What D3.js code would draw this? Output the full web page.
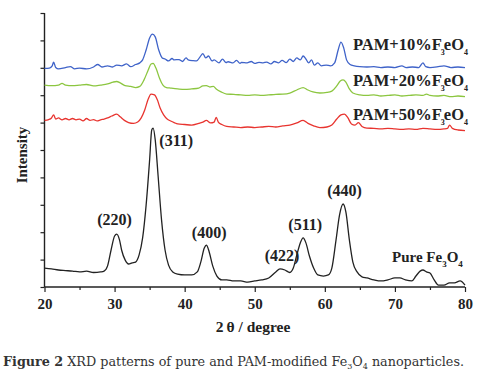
<!DOCTYPE html>
<html>
<head>
<meta charset="utf-8">
<script src="https://cdn.jsdelivr.net/npm/d3@7"></script>
<style>
  body { margin: 0; background: #fff; }
  svg { display: block; }
  text { font-family: "Liberation Serif", "Times New Roman", serif; }
</style>
</head>
<body>
<svg id="chart" width="484" height="377"></svg>
<script>
// 2θ (deg), intensity (a.u., traces offset vertically as in the figure)
const pure = [
  [20,69],[21,66],[22,62],[23,60],[24,58],[25,55],[26,58],[27,53],[28,55],[28.5,58],
  [29,77],[29.5,135],[30,186],[30.3,193],[30.7,172],[31,135],[31.5,99],[32,84],[32.5,88],[33,91],
  [33.5,117],[34,179],[34.5,299],[35,464],[35.3,573],[35.5,580],[35.8,537],[36.2,409],[36.7,245],[37.2,135],
  [37.7,80],[38.3,55],[39,47],[40,44],[41,44],[41.8,55],[42.3,91],[42.8,142],[43.1,153],[43.5,128],
  [44,77],[44.6,40],[45.3,26],[46,26],[47,22],[48,22],[49,18],[50,22],[51,26],[52,33],
  [53,55],[53.6,66],[54.3,62],[55,53],[55.5,69],[56,117],[56.5,161],[56.9,179],[57.3,161],[57.8,113],
  [58.4,69],[59,44],[59.8,40],[60.5,44],[61,69],[61.6,172],[62.1,263],[62.6,303],[63,274],[63.5,172],
  [64,91],[64.6,55],[65.3,37],[66,33],[67,26],[68,22],[69,26],[70,33],[70.7,33],[71.5,26],
  [72.4,22],[73,40],[73.6,58],[74,62],[74.5,55],[75,51],[75.6,26],[76.2,7],[77,7],[77.8,15],
  [78.5,15],[79.3,22],[80,7]
];
const pam10 = [
  [20,798],[20.7,799],[21.1,807],[21.3,821],[21.6,801],[22,796],[23,801],[23.7,804],[24.3,796],[25,799],
  [26,796],[27,803],[27.6,812],[28.2,803],[29,807],[29.7,803],[30.3,810],[31,807],[31.7,814],[32.3,804],
  [33,812],[33.6,818],[34,829],[34.5,865],[35,909],[35.4,923],[35.8,913],[36.3,865],[36.8,836],[37.2,832],
  [37.7,825],[38.2,834],[38.5,829],[39.2,830],[39.7,823],[40.2,836],[40.5,829],[41.2,826],[41.7,825],[42.2,840],
  [42.6,852],[43,836],[43.4,843],[43.9,825],[44.2,829],[44.9,818],[45.4,832],[45.9,819],[46.2,822],[46.9,818],
  [47.4,827],[47.9,816],[48.1,820],[48.9,818],[49.5,823],[50,816],[50.6,820],[51.2,818],[51.7,821],[52.3,814],
  [52.8,823],[53.4,818],[53.9,827],[54.5,819],[55,832],[55.5,823],[56,836],[56.5,829],[56.9,843],[57.3,832],
  [57.7,818],[58.1,829],[58.5,810],[59,818],[59.5,807],[60.2,810],[60.8,807],[61.4,818],[61.9,865],[62.3,894],
  [62.7,872],[63.1,829],[63.6,812],[64.2,807],[65,804],[66,803],[67,804],[68,801],[69,803],[70,801],
  [71,807],[71.6,801],[72.5,803],[73.4,801],[74,818],[74.4,804],[75,801],[76,803],[77,807],[78,801],
  [79,803],[80,801]
];
const pam20 = [
  [20,737],[21,735],[22,737],[22.5,743],[23,737],[24,735],[25,737],[26,739],[27,734],[28,737],
  [29,741],[29.8,748],[30.3,750],[30.8,745],[31.5,735],[32.3,732],[33,728],[33.6,732],[34.2,756],[34.8,792],
  [35.2,814],[35.5,816],[35.9,799],[36.4,763],[36.9,737],[37.4,728],[38,726],[39,723],[40,721],[41,723],
  [42,726],[42.6,734],[43.1,735],[43.6,730],[44.1,732],[44.5,723],[45.2,712],[46,704],[47,703],[48,701],
  [49,699],[50,701],[51,699],[52,701],[53,703],[54,704],[55,708],[56,719],[56.9,728],[57.6,719],
  [58.3,712],[59.3,708],[60.3,710],[61,715],[61.7,734],[62.2,752],[62.6,756],[63,748],[63.5,723],[64,708],
  [65,701],[66,699],[67,701],[68,697],[69,699],[70,701],[71,697],[72,699],[73,701],[74,699],
  [74.5,704],[75,699],[76,697],[77,699],[78,695],[79,697],[80,695]
];
const pam50 = [
  [20,608],[20.6,611],[21,617],[21.3,628],[21.6,613],[22,617],[22.5,610],[23,615],[23.5,610],[24,615],
  [24.5,610],[25,613],[25.5,606],[26,615],[26.5,608],[27,611],[27.5,606],[28,610],[28.5,613],[29,617],
  [29.6,624],[30.3,631],[30.8,621],[31.4,608],[32,600],[32.7,597],[33.3,602],[33.8,617],[34.3,646],[34.8,686],
  [35.2,704],[35.7,701],[36.1,683],[36.5,653],[37,628],[37.5,613],[38,606],[38.5,600],[39,595],[40,593],
  [41,591],[42,597],[42.6,602],[43.1,608],[43.7,599],[44.2,602],[44.5,619],[44.8,602],[45.3,593],[46,586],
  [47,584],[48,582],[49,584],[50,582],[51,584],[52,586],[53,584],[54,588],[55,591],[56,599],
  [56.9,608],[57.6,597],[58.4,588],[59.3,582],[60.3,584],[61,591],[61.7,613],[62.3,628],[62.8,631],[63.3,617],
  [63.8,595],[64.3,591],[64.8,600],[65.3,586],[66,580],[67,579],[68,577],[69,579],[70,577],[71,575],
  [72,577],[73,575],[74,579],[75,577],[76,575],[77,577],[77.5,579],[77.8,591],[78.2,579],[79,573],
  [80,571]
];

const xTicks = [20, 30, 40, 50, 60, 70, 80];
const xMinorTicks = [25, 35, 45, 55, 65, 75];
const peakLabels = [
  { hkl: "(220)", x: 30.0, v: 225 },
  { hkl: "(311)", x: 38.8, v: 515 },
  { hkl: "(400)", x: 43.5, v: 180 },
  { hkl: "(422)", x: 53.9, v: 95 },
  { hkl: "(511)", x: 57.2, v: 208 },
  { hkl: "(440)", x: 62.8, v: 332 }
];
const seriesLabels = [
  { pct: "10", v: 865 },
  { pct: "20", v: 735 },
  { pct: "50", v: 610 }
];

const svg = d3.select("#chart");
const margin = { top: 13, right: 19, bottom: 90, left: 44.5 };
const width = 484, height = 377;

const x = d3.scaleLinear().domain([20, 80]).range([margin.left, width - margin.right]);
const y = d3.scaleLinear().domain([0, 1000]).range([height - margin.bottom, margin.top]);

svg.append("rect").attr("width", width).attr("height", height).attr("fill", "#fff");

// axes
const xAxis = svg.append("g")
  .attr("transform", `translate(0,${y(0)})`)
  .call(d3.axisBottom(x).tickValues(xTicks).tickSize(5).tickFormat(d3.format("d")));
svg.append("g")
  .attr("transform", `translate(0,${y(0)})`)
  .call(d3.axisBottom(x).tickValues(xMinorTicks).tickSize(3).tickFormat(""))
  .select(".domain").remove();
const yAxis = svg.append("g")
  .attr("transform", `translate(${margin.left},0)`)
  .call(d3.axisLeft(y).ticks(10).tickSize(4).tickFormat(""));

xAxis.select(".domain").attr("d", `M${x(20)},0H${x(80)}`);
yAxis.select(".domain").attr("d", `M0,${y(0)}V${y(1000)}`);
svg.selectAll(".domain").attr("stroke", "#222").attr("stroke-width", 1.4);
svg.selectAll(".tick line").attr("stroke", "#222").attr("stroke-width", 1.2);
xAxis.selectAll(".tick text")
  .attr("dy", "0.9em")
  .style("font-family", "Liberation Serif").style("font-weight", "bold")
  .style("font-size", "15px").attr("fill", "#222");

// traces
const line = d3.line().x(d => x(d[0])).y(d => y(d[1])).curve(d3.curveMonotoneX);
const traces = [
  { data: pam10, color: "#3f63c9" },
  { data: pam20, color: "#8cc640" },
  { data: pam50, color: "#e8342f" },
  { data: pure, color: "#222" }
];
svg.selectAll("path.trace").data(traces).enter().append("path")
  .attr("class", "trace")
  .attr("d", d => line(d.data))
  .attr("fill", "none")
  .attr("stroke", d => d.color)
  .attr("stroke-width", 1.3)
  .attr("stroke-linejoin", "round");

// peak indices
svg.selectAll("text.hkl").data(peakLabels).enter().append("text")
  .attr("class", "hkl")
  .attr("x", d => x(d.x)).attr("y", d => y(d.v))
  .attr("text-anchor", "middle")
  .style("font-weight", "bold").style("font-size", "16px").attr("fill", "#222")
  .text(d => d.hkl);

// series labels (subscript 3 tucked under the "Fe" as in the figure)
const sl = svg.selectAll("text.slab").data(seriesLabels).enter().append("text")
  .attr("class", "slab")
  .attr("x", 353).attr("y", d => y(d.v))
  .style("font-weight", "bold").style("font-size", "16.5px").attr("fill", "#222");
sl.append("tspan").text(d => `PAM+${d.pct}%F`);
sl.append("tspan").attr("dx", -1).attr("dy", 5).style("font-size", "8px").text("3");
sl.append("tspan").attr("dx", -1).attr("dy", -5).text("eO");
sl.append("tspan").attr("dy", 5).style("font-size", "8px").text("4");

const pl = svg.append("text")
  .attr("x", 392).attr("y", y(92))
  .style("font-weight", "bold").style("font-size", "15px").attr("fill", "#222");
pl.append("tspan").text("Pure Fe");
pl.append("tspan").attr("dy", 5).style("font-size", "9px").text("3");
pl.append("tspan").attr("dy", -5).text("O");
pl.append("tspan").attr("dy", 5).style("font-size", "9px").text("4");

// axis titles
svg.append("text")
  .attr("transform", `translate(27,155) rotate(-90)`)
  .attr("text-anchor", "middle")
  .style("font-weight", "bold").style("font-size", "15px").attr("fill", "#222")
  .text("Intensity");
svg.append("text")
  .attr("x", 253).attr("y", 332)
  .attr("text-anchor", "middle")
  .style("font-weight", "bold").style("font-size", "15.5px").attr("fill", "#222")
  .text("2\u2009\u03b8 / degree");

// caption
const cap = svg.append("text")
  .attr("x", 3).attr("y", 366)
  .style("font-family", "DejaVu Serif").style("font-size", "12.75px").attr("fill", "#333");
cap.append("tspan").style("font-weight", "bold").text("Figure 2");
cap.append("tspan").text(" XRD patterns of pure and PAM-modified Fe");
cap.append("tspan").attr("dy", 3).style("font-size", "8px").text("3");
cap.append("tspan").attr("dy", -3).text("O");
cap.append("tspan").attr("dy", 3).style("font-size", "8px").text("4");
cap.append("tspan").attr("dy", -3).text(" nanoparticles.");
</script>
</body>
</html>
